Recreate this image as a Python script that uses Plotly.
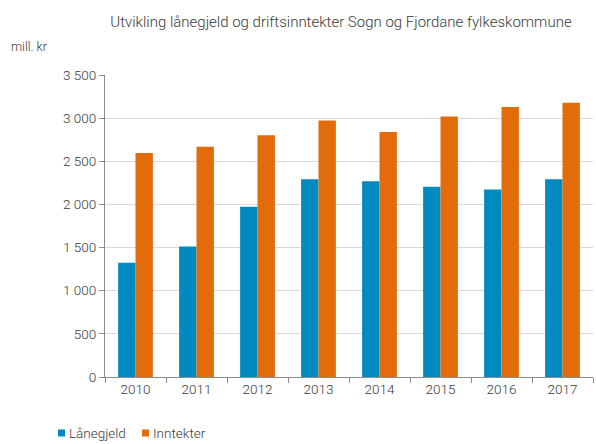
import plotly.graph_objects as go

years = ["2010", "2011", "2012", "2013", "2014", "2015", "2016", "2017"]
lanegjeld = [1325, 1513, 1972, 2292, 2268, 2205, 2172, 2292]
inntekter = [2595, 2668, 2802, 2972, 2838, 3018, 3128, 3178]
ytick_vals = [0, 500, 1000, 1500, 2000, 2500, 3000, 3500]
ytick_text = ["0", "500", "1 000", "1 500", "2 000", "2 500", "3 000", "3 500"]
series_names = ["Lånegjeld", "Inntekter"]
series_colors = ["#008ABF", "#E36C0A"]

FONT = "Roboto"
TXT = "#3a3a3a"
W, H = 596, 444
L, R, T, B = 105, 3, 75, 67
PW, PH = W - L - R, H - T - B

fig = go.Figure()
for name, vals, col in zip(series_names, [lanegjeld, inntekter], series_colors):
    fig.add_trace(go.Bar(x=years, y=vals, name=name, marker_color=col,
                         marker_line_width=0, showlegend=False))

fig.update_layout(
    width=W, height=H,
    margin=dict(l=L, r=R, t=T, b=B, autoexpand=False),
    paper_bgcolor="white", plot_bgcolor="white",
    barmode="group", bargap=0.43, bargroupgap=0,
    font=dict(family=FONT, size=13, color=TXT, weight=300),
    title=dict(text="Utvikling lånegjeld og driftsinntekter Sogn og Fjordane fylkeskommune",
               x=341 / W, xanchor="center", xref="container",
               y=1 - 22 / H, yanchor="middle", yref="container",
               font=dict(family=FONT, size=15, color=TXT, weight=300)),
    showlegend=False,
)
fig.update_xaxes(showline=True, linecolor="#8c8c8c", linewidth=1, ticks="outside",
                 tickson="boundaries", ticklen=5, tickcolor="#8c8c8c",
                 showgrid=False, tickfont=dict(size=13.5, color=TXT, weight=300))
fig.update_yaxes(range=[0, 3500], tickvals=ytick_vals, ticktext=ytick_text,
                 showline=True, linecolor="#8c8c8c", linewidth=1, ticks="outside",
                 ticklen=5, tickcolor="#8c8c8c", showgrid=True, gridcolor="#d9d9d9",
                 gridwidth=1, zeroline=False, tickfont=dict(size=13.5, color=TXT, weight=300))
fig.add_annotation(text="mill. kr", xref="paper", yref="paper",
                   x=(9 - L) / PW, y=(H - B - 46) / PH, xanchor="left", yanchor="middle",
                   showarrow=False, font=dict(family=FONT, size=12.5, color=TXT, weight=300))

# manual legend
leg_x = [58, 142]
leg_y = 433
for name, col, lx in zip(series_names, series_colors, leg_x):
    fig.add_shape(type="rect", xref="paper", yref="paper",
                  x0=(lx - L) / PW, x1=(lx + 7 - L) / PW,
                  y0=(H - B - (leg_y + 3.5)) / PH, y1=(H - B - (leg_y - 3.5)) / PH,
                  fillcolor=col, line_width=0)
    fig.add_annotation(text=name, xref="paper", yref="paper",
                       x=(lx + 9 - L) / PW, y=(H - B - leg_y) / PH,
                       xanchor="left", yanchor="middle", showarrow=False,
                       font=dict(family=FONT, size=13.5, color=TXT, weight=300))

fig.write_html("out.html", config={"displayModeBar": False},
               post_script="document.body.style.margin='0';document.body.style.overflow='hidden';")
